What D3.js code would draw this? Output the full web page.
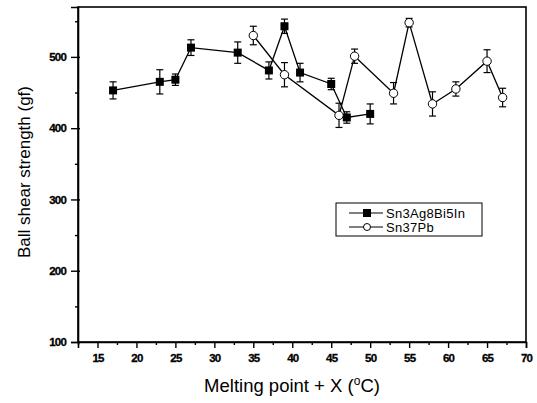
<!DOCTYPE html>
<html>
<head>
<meta charset="utf-8">
<script src="https://cdnjs.cloudflare.com/ajax/libs/d3/7.8.5/d3.min.js"></script>
<style>
  body { margin: 0; background: #fff; }
  text { font-family: "Liberation Sans", Arial, sans-serif; fill: #000; }
</style>
</head>
<body>
<div id="chart"></div>
<script>
// data
var snAgX   = [17, 23, 25, 27, 33, 37, 39, 41, 45, 47, 50];
var snAgY   = [453, 465, 468, 513, 506, 481, 543, 478, 462, 415, 420];
var snAgErr = [12, 17, 8, 11, 15, 12, 10, 13, 8, 8, 14];

var snPbX   = [35, 39, 46, 48, 53, 55, 58, 61, 65, 67];
var snPbY   = [530, 475, 418, 501, 449, 548, 434, 455, 494, 443];
var snPbErr = [13, 17, 17, 10, 15, 6, 17, 10, 16, 13];

var xTicks = [15, 20, 25, 30, 35, 40, 45, 50, 55, 60, 65, 70];
var yTicks = [100, 200, 300, 400, 500];
var yMinor = [150, 250, 350, 450, 550];
var seriesNames = ["Sn3Ag8Bi5In", "Sn37Pb"];

var width = 537,
    height = 403;

var margin = {left: 78, right: 11, top: 7, bottom: 61};

var x = d3.scaleLinear()
          .domain([12.5, 70])
          .range([margin.left, width - margin.right]);

var y = d3.scaleLinear()
          .domain([100, 570])
          .range([height - margin.bottom, margin.top]);

var svg = d3.select('#chart')
  .append('svg')
    .attr('width', width)
    .attr('height', height);

// frame
svg.append('rect')
   .attr('x', x(12.5))
   .attr('y', y(570))
   .attr('width', x(70) - x(12.5))
   .attr('height', y(100) - y(570))
   .style('fill', 'none')
   .style('stroke', '#000')
   .style('stroke-width', 1.6);

// axes
svg.append('g')
  .attr('transform', 'translate(0,' + y(100) + ')')
  .call(d3.axisBottom(x).tickValues(xTicks).tickSize(6).tickPadding(6));

svg.append('g')
  .attr('transform', 'translate(0,' + y(100) + ')')
  .call(d3.axisBottom(x).tickValues(d3.range(12.5, 70, 2.5).filter(function(d){ return d % 5 !== 0; }))
        .tickSize(3).tickFormat(''))
  .select('.domain').remove();

var yAxis = svg.append('g')
  .attr('transform', 'translate(' + x(12.5) + ',0)')
  .call(d3.axisLeft(y).tickValues(yTicks).tickSize(7).tickPadding(5));
yAxis.selectAll('.tick line').attr('x2', -7).attr('x1', 2);

svg.append('g')
  .attr('transform', 'translate(' + x(12.5) + ',0)')
  .call(d3.axisLeft(y).tickValues(yMinor).tickSize(3).tickFormat(''))
  .select('.domain').remove();

svg.selectAll('.domain').style('stroke', '#000').style('stroke-width', 1.6);
svg.selectAll('.tick line').style('stroke', '#000').style('stroke-width', 1.4);
svg.selectAll('.tick text')
   .style('font-family', '"Liberation Sans", Arial, sans-serif')
   .style('font-size', '11.5px')
   .style('font-weight', 'bold')
   .style('letter-spacing', '-0.8px')
   .style('stroke', '#000')
   .style('stroke-width', 0.3);

// axis titles
svg.append('text')
   .attr('transform', 'translate(30,172) rotate(-90)')
   .attr('text-anchor', 'middle')
   .style('font-size', '17px')
   .text('Ball shear strength (gf)');

var xt = svg.append('text')
   .attr('x', 292)
   .attr('y', 392)
   .attr('text-anchor', 'middle')
   .style('font-size', '18.5px');
xt.append('tspan').text('Melting point + X (');
xt.append('tspan').attr('dy', -7).style('font-size', '12px').text('o');
xt.append('tspan').attr('dy', 7).text('C)');

// series
function drawSeries(xs, ys, errs, filled) {
  var pts = xs.map(function(d, i) { return {x: d, y: ys[i], e: errs[i]}; });
  var line = d3.line()
               .x(function(d) { return x(d.x); })
               .y(function(d) { return y(d.y); });

  svg.append('path')
     .datum(pts)
     .attr('d', line)
     .style('fill', 'none')
     .style('stroke', '#000')
     .style('stroke-width', 1.3);

  var eb = svg.append('g');
  eb.selectAll('.bar')
    .data(pts).enter()
    .append('line')
    .attr('x1', function(d) { return x(d.x); })
    .attr('x2', function(d) { return x(d.x); })
    .attr('y1', function(d) { return y(d.y - d.e); })
    .attr('y2', function(d) { return y(d.y + d.e); })
    .style('stroke', '#000').style('stroke-width', 1.2);
  [1, -1].forEach(function(s) {
    eb.selectAll('.cap' + s)
      .data(pts).enter()
      .append('line')
      .attr('x1', function(d) { return x(d.x) - 3.5; })
      .attr('x2', function(d) { return x(d.x) + 3.5; })
      .attr('y1', function(d) { return y(d.y + s * d.e); })
      .attr('y2', function(d) { return y(d.y + s * d.e); })
      .style('stroke', '#000').style('stroke-width', 1.2);
  });

  if (filled) {
    svg.selectAll('.sq')
       .data(pts).enter()
       .append('rect')
       .attr('x', function(d) { return x(d.x) - 4; })
       .attr('y', function(d) { return y(d.y) - 4; })
       .attr('width', 8)
       .attr('height', 8)
       .style('fill', '#000');
  } else {
    svg.selectAll('.ci')
       .data(pts).enter()
       .append('circle')
       .attr('cx', function(d) { return x(d.x); })
       .attr('cy', function(d) { return y(d.y); })
       .attr('r', 4.2)
       .style('fill', '#fff')
       .style('stroke', '#000')
       .style('stroke-width', 1);
  }
}

drawSeries(snAgX, snAgY, snAgErr, true);
drawSeries(snPbX, snPbY, snPbErr, false);

// legend
var legend = svg.append('g').attr('transform', 'translate(336,203)');
legend.append('rect')
      .attr('width', 146).attr('height', 33)
      .style('fill', '#fff').style('stroke', '#000').style('stroke-width', 1);

legend.selectAll('.lg-line')
      .data(seriesNames).enter()
      .append('line')
      .attr('x1', 13).attr('x2', 47)
      .attr('y1', function(d, i) { return 10 + i * 14; })
      .attr('y2', function(d, i) { return 10 + i * 14; })
      .style('stroke', '#000').style('stroke-width', 1);

legend.append('rect')
      .attr('x', 27).attr('y', 6).attr('width', 8).attr('height', 8)
      .style('fill', '#000');
legend.append('circle')
      .attr('cx', 31).attr('cy', 24).attr('r', 3.5)
      .style('fill', '#fff').style('stroke', '#000').style('stroke-width', 1);

legend.selectAll('.lg-text')
      .data(seriesNames).enter()
      .append('text')
      .attr('x', 50)
      .attr('y', function(d, i) { return 15 + i * 14; })
      .style('font-size', '13px')
      .style('letter-spacing', '0.3px')
      .text(function(d) { return d; });
</script>
</body>
</html>
